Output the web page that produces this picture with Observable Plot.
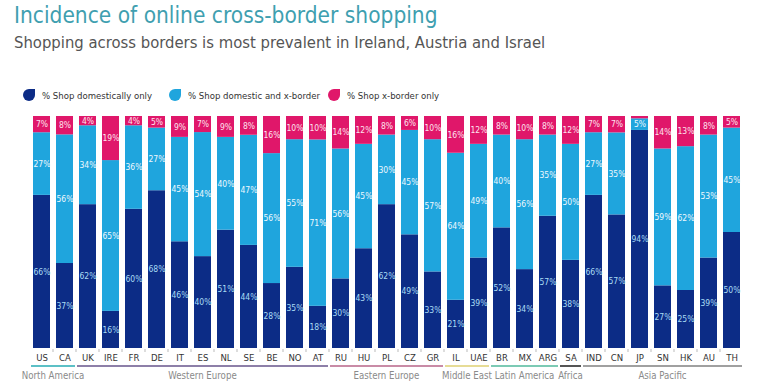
<!DOCTYPE html>
<html>
<head>
<meta charset="utf-8">
<script src="https://cdn.jsdelivr.net/npm/d3@7"></script>
<script src="https://cdn.jsdelivr.net/npm/@observablehq/plot@0.6"></script>
<style>
  html, body { margin: 0; padding: 0; background: #fff; }
  body { width: 768px; height: 390px; position: relative; overflow: hidden; font-family: "DejaVu Sans Condensed", "DejaVu Sans", sans-serif; }
  #title { position: absolute; left: 14px; top: 2px; font-size: 22.5px; line-height: 26px; color: #3f9fb0; white-space: nowrap; }
  #subtitle { position: absolute; left: 14px; top: 33px; font-size: 16.5px; line-height: 20px; color: #555; white-space: nowrap; }
  .item { position: absolute; top: 89px; display: flex; align-items: center; font-size: 9.5px; color: #333; white-space: nowrap; }
  .sw { width: 12px; height: 12px; border-radius: 50% 0 50% 50%; margin-right: 7px; }
  #chart { position: absolute; left: 0; top: 110px; }
</style>
</head>
<body>
<div id="title">Incidence of online cross-border shopping</div>
<div id="subtitle">Shopping across borders is most prevalent in Ireland, Austria and Israel</div>
<div id="legend"></div>
<div id="chart"></div>
<script>
const countries = ["US","CA","UK","IRE","FR","DE","IT","ES","NL","SE","BE","NO","AT","RU","HU","PL","CZ","GR","IL","UAE","BR","MX","ARG","SA","IND","CN","JP","SN","HK","AU","TH"];
const domesticOnly = [66,37,62,16,60,68,46,40,51,44,28,35,18,30,43,62,49,33,21,39,52,34,57,38,66,57,94,27,25,39,50];
const domesticAndX = [27,56,34,65,36,27,45,54,40,47,56,55,71,56,45,30,45,57,64,49,40,56,35,50,27,35,5,59,62,53,45];
const xBorderOnly  = [7,8,4,19,4,5,9,7,9,8,16,10,10,14,12,8,6,10,16,12,8,10,8,12,7,7,1,14,13,8,5];
const seriesNames = ["% Shop domestically only","% Shop domestic and x-border","% Shop x-border only"];
const seriesColors = ["#0c2c86","#1fa5dd","#e0176a"];
const labelColors = ["#a9dcf4","#eef8fd","#fde3ee"];
const legendLeft = [23, 169, 328];
const regions = ["North America","Western Europe","Eastern Europe","Middle East","Latin America","Africa","Asia Pacific"];
const regionFirst = ["US","UK","RU","IL","BR","SA","IND"];
const regionLast  = ["CA","AT","GR","UAE","ARG","SA","TH"];
const regionColors = ["#5cc0c6","#8d7fa8","#c98ba6","#e6dc96","#7ccab4","#555555","#a0a0a0"];

const seriesValues = [domesticOnly, domesticAndX, xBorderOnly];
const data = [];
seriesNames.forEach((s, k) => countries.forEach((c, i) => data.push({country: c, series: s, value: seriesValues[k][i], k})));

// legend
const lg = document.getElementById("legend");
seriesNames.forEach((s, k) => {
  const it = document.createElement("div"); it.className = "item"; it.style.left = legendLeft[k] + "px";
  const sw = document.createElement("div"); sw.className = "sw"; sw.style.background = seriesColors[k];
  const tx = document.createElement("span"); tx.textContent = s;
  it.appendChild(sw); it.appendChild(tx); lg.appendChild(it);
});

const W = 768, H = 280;
const FONT = "DejaVu Sans Condensed, DejaVu Sans, sans-serif";
const plot = Plot.plot({
  width: W, height: H,
  marginTop: 6, marginBottom: 42, marginLeft: 13, marginRight: 8,
  style: {fontFamily: FONT, background: "#fff"},
  x: {domain: countries, padding: 0.25, label: null},
  y: {domain: [0, 1], axis: null},
  color: {domain: seriesNames, range: seriesColors},
  marks: [
    Plot.barY(data, Plot.stackY({offset: "normalize", x: "country", y: "value", fill: "series", z: "series", order: null})),
    Plot.text(data, Plot.stackY({offset: "normalize", x: "country", y: "value", z: "series", order: null,
      text: d => d.value >= 3 ? d.value + "%" : null, fill: d => labelColors[d.k], fontSize: 8.5})),
    Plot.axisX({tickSize: 0, tickPadding: 6, fontSize: 9.5, color: "#333", label: null})
  ]
});
document.getElementById("chart").appendChild(plot);

// region brackets and tick marks through the plot's x scale
const xs = plot.scale("x");
const bw = xs.bandwidth, step = xs.step ?? bw / 0.75;
const svg = d3.select(plot);
const baseY = H - 42;
const g = svg.append("g").attr("font-family", FONT);
countries.forEach((c, i) => {
  if (i === 0) return;
  const xx = xs.apply(c) - (step - bw) / 2;
  g.append("line").attr("x1", xx).attr("x2", xx).attr("y1", baseY + 1).attr("y2", baseY + 4).attr("stroke", "#bbb");
});
regions.forEach((r, k) => {
  const x1 = xs.apply(regionFirst[k]) - 2;
  const x2 = xs.apply(regionLast[k]) + bw + 2;
  g.append("line").attr("x1", x1).attr("x2", x2).attr("y1", baseY + 18).attr("y2", baseY + 18)
    .attr("stroke", regionColors[k]).attr("stroke-width", 2);
  g.append("text").attr("x", (x1 + x2) / 2).attr("y", baseY + 31).attr("text-anchor", "middle")
    .attr("font-size", 9.6).attr("fill", "#8a8a8a").text(r);
});
</script>
</body>
</html>
